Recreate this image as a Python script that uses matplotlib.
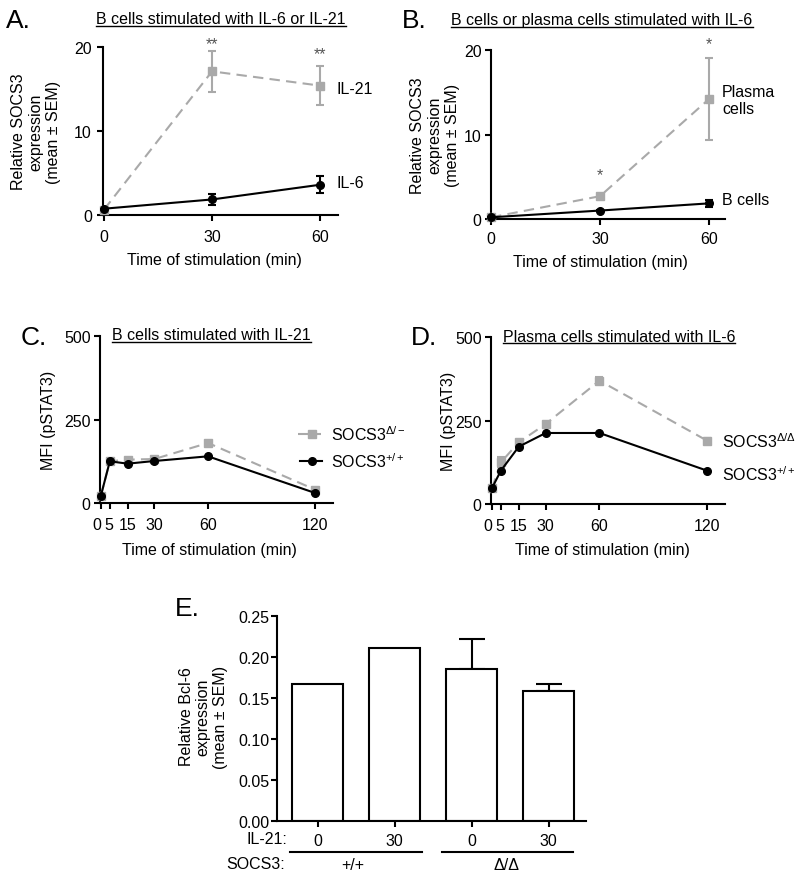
import matplotlib
matplotlib.use("Agg")
import matplotlib.pyplot as plt
from matplotlib.lines import Line2D
from matplotlib.transforms import ScaledTranslation

plt.rcParams['font.family'] = ['Liberation Sans', 'DejaVu Sans']
plt.rcParams['mathtext.fontset'] = 'custom'
plt.rcParams['mathtext.rm'] = 'Liberation Sans'
plt.rcParams['mathtext.it'] = 'Liberation Sans:italic'
plt.rcParams['mathtext.bf'] = 'Liberation Sans:bold'

# ---------------- data ----------------
a_time = [0, 30, 60]
a_il21 = [0.65, 17.1, 15.4]
a_il21_sem = [0.0, 2.4, 2.3]
a_il6 = [0.75, 1.85, 3.6]
a_il6_sem = [0.0, 0.7, 1.0]
a_stars = ["**", "**"]
a_star_x = [30, 60]
a_star_y = [20.4, 19.2]

b_time = [0, 30, 60]
b_plasma = [0.2, 2.7, 14.2]
b_plasma_sem = [0.0, 0.2, 4.9]
b_bcells = [0.2, 1.0, 1.85]
b_bcells_sem = [0.0, 0.1, 0.45]
b_stars = ["*", "*"]
b_star_x = [30, 60]
b_star_y = [5.2, 20.8]

cd_time = [0, 5, 15, 30, 60, 120]
cd_labels = ['0', '5', '15', '30', '60', '120']
c_ko = [22, 125, 130, 132, 180, 40]
c_wt = [22, 125, 118, 126, 140, 30]
d_ko = [47, 125, 185, 240, 370, 190]
d_ko_sem = [0, 15, 5, 5, 10, 8]
d_wt = [47, 100, 172, 213, 213, 100]

e_il21 = ["0", "30", "0", "30"]
e_vals = [0.168, 0.211, 0.186, 0.159]
e_sem = [0.0, 0.0, 0.036, 0.0085]
e_socs3 = ["+/+", "Δ/Δ"]

GREY = '#a9a9a9'
W, H = 800, 879
FS = 11.5

fig = plt.figure(figsize=(W / 100, H / 100), dpi=100)


def rect(l, t, r, b):
    return [l / W, 1 - b / H, (r - l) / W, (b - t) / H]


def fx(x):
    return x / W


def fy(y):
    return 1 - y / H


def style(ax, xpad, ypad):
    for s in ['top', 'right']:
        ax.spines[s].set_visible(False)
    for s in ['left', 'bottom']:
        ax.spines[s].set_linewidth(1.5)
    ax.tick_params(width=1.5, length=4, labelsize=FS)
    ax.tick_params(axis='x', pad=xpad)
    ax.tick_params(axis='y', pad=ypad)


def dashed(ax, x, y, yerr=None):
    ax.errorbar(x, y, yerr=yerr, color=GREY, lw=1.5, marker='s', ms=6,
                capsize=3, elinewidth=1.5, capthick=1.5, dashes=(5, 3),
                clip_on=False, zorder=3)


def solid(ax, x, y, yerr=None):
    ax.errorbar(x, y, yerr=yerr, color='black', lw=1.5, marker='o', ms=5.5,
                capsize=3, elinewidth=1.5, capthick=1.5,
                clip_on=False, zorder=4)


titles = []


def title(xc, yb, s):
    t = fig.text(fx(xc), fy(yb), s, ha='center', va='baseline', fontsize=FS)
    titles.append((t, yb))


def letter(x, y, s):
    fig.text(fx(x), fy(y), s, ha='left', va='center', fontsize=19)


def ylab(xc, yc, s, ls=1.2):
    fig.text(fx(xc), fy(yc), s, rotation=90, ha='center', va='center',
             fontsize=FS, linespacing=ls, multialignment='center')


def xlab(xc, yc, s):
    fig.text(fx(xc), fy(yc), s, ha='center', va='center', fontsize=FS)


def shift_small_labels(ax):
    labs = ax.get_xticklabels()
    for lab, dx in zip(labs[:2], [-4.5, -1.0]):
        lab.set_transform(lab.get_transform() +
                          ScaledTranslation(dx / 100, 0, fig.dpi_scale_trans))


# ---------------- A ----------------
axA = fig.add_axes(rect(103, 48, 338, 216))
style(axA, 6, 4)
dashed(axA, a_time, a_il21, a_il21_sem)
solid(axA, a_time, a_il6, a_il6_sem)
axA.set_xlim(-0.3, 65)
axA.set_ylim(0, 20)
axA.set_xticks(a_time)
axA.set_yticks([0, 10, 20])
xlab(214.5, 260, 'Time of stimulation (min)')
ylab(36, 132, 'Relative SOCS3\nexpression\n(mean ± SEM)')
for s, x, y in zip(a_stars, a_star_x, a_star_y):
    axA.text(x, y, s, ha='center', va='center', fontsize=FS, color='#555555',
             clip_on=False)
fig.text(fx(337), fy(89), 'IL-21', fontsize=FS, va='center')
fig.text(fx(337), fy(184), 'IL-6', fontsize=FS, va='center')
letter(6, 21, 'A.')
title(221, 24, 'B cells stimulated with IL-6 or IL-21')

# ---------------- B ----------------
axB = fig.add_axes(rect(490.7, 51, 725, 220))
style(axB, 4.5, 2.5)
dashed(axB, b_time, b_plasma, b_plasma_sem)
solid(axB, b_time, b_bcells, b_bcells_sem)
axB.set_xlim(-0.1, 64.4)
axB.set_ylim(0, 20)
axB.set_xticks(b_time)
axB.set_yticks([0, 10, 20])
xlab(600.8, 263, 'Time of stimulation (min)')
ylab(435, 135.5, 'Relative SOCS3\nexpression\n(mean ± SEM)')
for s, x, y in zip(b_stars, b_star_x, b_star_y):
    axB.text(x, y, s, ha='center', va='center', fontsize=FS, color='#555555',
             clip_on=False)
fig.text(fx(722), fy(101), 'Plasma\ncells', fontsize=FS, va='center',
         linespacing=1.1)
fig.text(fx(722), fy(201), 'B cells', fontsize=FS, va='center')
letter(402, 21, 'B.')
title(602, 25, 'B cells or plasma cells stimulated with IL-6')

# ---------------- C ----------------
axC = fig.add_axes(rect(100, 337.3, 333, 504))
style(axC, 6, 2.7)
dashed(axC, cd_time, c_ko)
solid(axC, cd_time, c_wt)
axC.set_xlim(-0.5, 130)
axC.set_ylim(0, 500)
axC.set_xticks(cd_time)
axC.set_xticklabels(cd_labels)
shift_small_labels(axC)
axC.set_yticks([0, 250, 500])
xlab(209, 550, 'Time of stimulation (min)')
ylab(48, 420.7, 'MFI (pSTAT3)')
fig.add_artist(Line2D([fx(298), fx(321)], [fy(435), fy(435)], color=GREY,
                      lw=1.5, dashes=(5, 3)))
fig.add_artist(Line2D([fx(311.5)], [fy(435)], color=GREY, marker='s', ms=6))
fig.add_artist(Line2D([fx(300), fx(322)], [fy(461.5), fy(461.5)],
                      color='black', lw=1.5))
fig.add_artist(Line2D([fx(311.5)], [fy(461.5)], color='black', marker='o',
                      ms=5.5))
fig.text(fx(331), fy(435), r'SOCS3$^{\Delta/−}$', fontsize=FS, va='center')
fig.text(fx(331), fy(461.5), r'SOCS3$^{+/+}$', fontsize=FS, va='center')
letter(21, 338, 'C.')
title(211.7, 340, 'B cells stimulated with IL-21')

# ---------------- D ----------------
axD = fig.add_axes(rect(491, 338.3, 725, 505))
style(axD, 6, 2.7)
dashed(axD, cd_time, d_ko, d_ko_sem)
solid(axD, cd_time, d_wt)
axD.set_xlim(-0.5, 130)
axD.set_ylim(0, 500)
axD.set_xticks(cd_time)
axD.set_xticklabels(cd_labels)
shift_small_labels(axD)
axD.set_yticks([0, 250, 500])
xlab(602.5, 550, 'Time of stimulation (min)')
ylab(448, 421.7, 'MFI (pSTAT3)')
fig.text(fx(722), fy(441.7), r'SOCS3$^{\Delta/\Delta}$', fontsize=FS,
         va='center')
fig.text(fx(722), fy(475), r'SOCS3$^{+/+}$', fontsize=FS, va='center')
letter(411, 338, 'D.')
title(619, 341.5, 'Plasma cells stimulated with IL-6')

# ---------------- E ----------------
axE = fig.add_axes(rect(276.7, 617.4, 586, 822))
style(axE, 5, 1)
pos = list(range(len(e_vals)))
axE.bar(pos, e_vals, width=0.67, color='white', edgecolor='black', lw=1.5,
        zorder=2)
for p, v, s in zip(pos, e_vals, e_sem):
    if s > 0:
        axE.errorbar([p], [v], yerr=[[0], [s]], color='black', lw=1.5,
                     capsize=9.5, capthick=1.5, elinewidth=1.5, zorder=1)
axE.set_xlim(-0.53, 3.487)
axE.set_ylim(0, 0.25)
axE.set_yticks([0, 0.05, 0.10, 0.15, 0.20, 0.25])
axE.set_yticklabels(['0.00', '0.05', '0.10', '0.15', '0.20', '0.25'])
axE.set_xticks(pos)
axE.set_xticklabels(e_il21)
ylab(203.3, 717, 'Relative Bcl-6\nexpression\n(mean ± SEM)', ls=1.15)
fig.text(fx(287), fy(840), 'IL-21:', ha='right', va='center', fontsize=FS)
fig.text(fx(285), fy(865), 'SOCS3:', ha='right', va='center', fontsize=FS)
fig.add_artist(Line2D([fx(290), fx(421.7)], [fy(853), fy(853)], color='black',
                      lw=1.5))
fig.add_artist(Line2D([fx(441.7), fx(573)], [fy(853), fy(853)], color='black',
                      lw=1.5))
fig.text(fx(353), fy(866), e_socs3[0], ha='center', va='center', fontsize=FS)
fig.text(fx(507), fy(866), e_socs3[1], ha='center', va='center', fontsize=FS)
letter(175, 609, 'E.')

# underline titles
fig.canvas.draw()
r = fig.canvas.get_renderer()
for t, yb in titles:
    bb = t.get_window_extent(r)
    fig.add_artist(Line2D([bb.x0 / W, bb.x1 / W], [fy(yb + 2.5), fy(yb + 2.5)],
                          color='black', lw=1.0))

fig.savefig('out.png', dpi=100)
